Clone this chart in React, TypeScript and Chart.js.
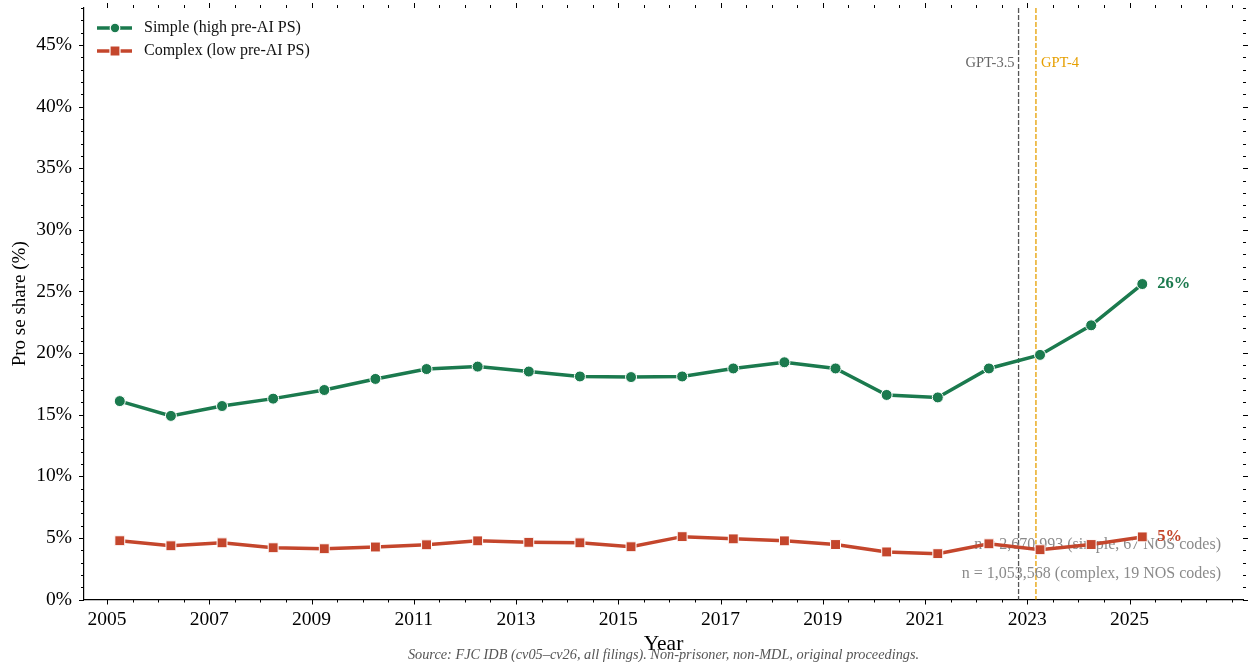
import { useEffect, useRef } from "react";
import { Chart, registerables } from "chart.js";

Chart.register(...registerables);

// Filing years (each point sits a quarter into its year)
const years = [
  2005, 2006, 2007, 2008, 2009, 2010, 2011, 2012, 2013, 2014, 2015,
  2016, 2017, 2018, 2019, 2020, 2021, 2022, 2023, 2024, 2025,
];
const POINT_OFFSET = 0.25;

// Pro se share (%) of filings, simple vs complex nature-of-suit groups
const simpleShare = [
  16.1, 14.9, 15.7, 16.3, 17.0, 17.9, 18.7, 18.9, 18.5, 18.1, 18.05,
  18.1, 18.75, 19.25, 18.75, 16.6, 16.4, 18.75, 19.85, 22.25, 25.6,
];
const complexShare = [
  4.77, 4.36, 4.6, 4.2, 4.12, 4.26, 4.44, 4.76, 4.64, 4.6, 4.28,
  5.1, 4.92, 4.76, 4.46, 3.86, 3.72, 4.52, 4.04, 4.46, 5.08,
];

const seriesNames = ["Simple (high pre-AI PS)", "Complex (low pre-AI PS)"];
const seriesColors = ["#1b7a4e", "#c4462c"];

const xTickValues = [2005, 2007, 2009, 2011, 2013, 2015, 2017, 2019, 2021, 2023, 2025];
const yTickValues = [0, 5, 10, 15, 20, 25, 30, 35, 40, 45];

const modelReleases = [
  { label: "GPT-3.5", x: 2022.83, color: "#555555", text: "#666666", side: "left" },
  { label: "GPT-4", x: 2023.17, color: "#e69f00", text: "#e69f00", side: "right" },
];

const sampleNotes = [
  "n = 2,670,993 (simple, 67 NOS codes)",
  "n = 1,053,568 (complex, 19 NOS codes)",
];
const sourceNote =
  "Source: FJC IDB (cv05\u2013cv26, all filings). Non-prisoner, non-MDL, original proceedings.";

const SERIF = "'Liberation Serif', 'Times New Roman', serif";

// Release markers and sample-size notes sit underneath the series
const backdropPlugin = {
  id: "backdrop",
  beforeDatasetsDraw(chart: any) {
    const { ctx, chartArea } = chart;
    const xs = chart.scales.x;
    ctx.save();
    modelReleases.forEach((m) => {
      const px = xs.getPixelForValue(m.x);
      ctx.beginPath();
      ctx.setLineDash([5, 2]);
      ctx.lineWidth = 1.3;
      ctx.strokeStyle = m.color;
      ctx.moveTo(px, chartArea.top);
      ctx.lineTo(px, chartArea.bottom);
      ctx.stroke();
      ctx.setLineDash([]);
      ctx.font = `14.5px ${SERIF}`;
      ctx.fillStyle = m.text;
      ctx.textBaseline = "middle";
      if (m.side === "left") {
        ctx.textAlign = "right";
        ctx.fillText(m.label, px - 4, chartArea.top + 55);
      } else {
        ctx.textAlign = "left";
        ctx.fillText(m.label, px + 5, chartArea.top + 55);
      }
    });
    ctx.font = `16px ${SERIF}`;
    ctx.fillStyle = "#8a8a8a";
    ctx.textAlign = "right";
    ctx.textBaseline = "middle";
    sampleNotes.forEach((t, i) => {
      ctx.fillText(t, chartArea.right - 22, chartArea.bottom - 55 + i * 29);
    });
    ctx.restore();
  },
};

// End labels, tick marks on all four sides, legend and source line
const overlayPlugin = {
  id: "overlay",
  afterDraw(chart: any) {
    const { ctx, chartArea } = chart;
    const xs = chart.scales.x;
    const ys = chart.scales.y;
    const { left, right, top, bottom } = chartArea;
    ctx.save();

    // value labels at the last point of each series
    chart.data.datasets.forEach((ds: any, i: number) => {
      const meta = chart.getDatasetMeta(i);
      const last = meta.data[meta.data.length - 1];
      const v = ds.data[ds.data.length - 1].y;
      ctx.font = `bold 16.5px ${SERIF}`;
      ctx.fillStyle = seriesColors[i];
      ctx.textAlign = "left";
      ctx.textBaseline = "middle";
      ctx.fillText(`${Math.round(v)}%`, last.x + 15, last.y);
    });

    // tick marks
    ctx.strokeStyle = "#000";
    ctx.lineWidth = 1;
    const line = (x1: number, y1: number, x2: number, y2: number) => {
      ctx.beginPath();
      ctx.moveTo(x1, y1);
      ctx.lineTo(x2, y2);
      ctx.stroke();
    };
    for (let v = Math.ceil(xs.min * 2) / 2; v <= xs.max; v += 0.5) {
      const px = Math.round(xs.getPixelForValue(v)) + 0.5;
      const len = xTickValues.includes(v) ? 5 : 3;
      line(px, bottom, px, bottom + len);
      line(px, top, px, top - len);
    }
    for (let v = Math.ceil(ys.min); v <= ys.max; v += 1) {
      const py = Math.round(ys.getPixelForValue(v)) + 0.5;
      const len = yTickValues.includes(v) ? 5 : 3;
      line(left, py, left - len, py);
      line(right, py, right + len, py);
    }

    // legend
    chart.data.datasets.forEach((ds: any, i: number) => {
      const y0 = top + 20 + i * 23;
      const x0 = left + 13;
      ctx.strokeStyle = seriesColors[i];
      ctx.lineWidth = 3.5;
      line(x0, y0, x0 + 35, y0);
      ctx.fillStyle = seriesColors[i];
      ctx.strokeStyle = "#ffffff";
      ctx.lineWidth = 1.2;
      ctx.beginPath();
      if (i === 0) {
        ctx.arc(x0 + 18, y0, 4.8, 0, Math.PI * 2);
      } else {
        ctx.rect(x0 + 18 - 5, y0 - 5, 10, 10);
      }
      ctx.fill();
      ctx.stroke();
      ctx.font = `16px ${SERIF}`;
      ctx.fillStyle = "#111";
      ctx.textAlign = "left";
      ctx.textBaseline = "middle";
      ctx.fillText(ds.label, x0 + 47, y0);
    });

    // source line
    ctx.font = `italic 14.3px ${SERIF}`;
    ctx.fillStyle = "#555";
    ctx.textAlign = "center";
    ctx.textBaseline = "middle";
    ctx.fillText(sourceNote, (left + right) / 2, chart.height - 7);

    ctx.restore();
  },
};

export default function App() {
  const canvasRef = useRef<HTMLCanvasElement | null>(null);

  useEffect(() => {
    const canvas = canvasRef.current;
    if (!canvas) return;
    const series = [simpleShare, complexShare];
    const chart = new Chart(canvas, {
      type: "line",
      data: {
        datasets: series.map((vals, i) => ({
          label: seriesNames[i],
          data: vals.map((v, j) => ({ x: years[j] + POINT_OFFSET, y: v })),
          borderColor: seriesColors[i],
          backgroundColor: seriesColors[i],
          borderWidth: 3.5,
          pointStyle: i === 0 ? "circle" : "rect",
          pointRadius: i === 0 ? 5.5 : 7,
          pointBorderColor: "#ffffff",
          pointBorderWidth: 1,
          pointBackgroundColor: seriesColors[i],
          tension: 0,
          fill: false,
        })),
      },
      options: {
        responsive: false,
        animation: false,
        devicePixelRatio: 1,
        layout: { padding: { left: 0, right: 0, top: 0, bottom: 0 } },
        plugins: {
          legend: { display: false },
          tooltip: { enabled: false },
        },
        scales: {
          x: {
            type: "linear",
            min: 2004.55,
            max: 2027.22,
            afterFit: (s: any) => {
              s.height = 62.5;
              s.paddingLeft = 0;
              s.paddingRight = 0;
            },
            afterBuildTicks: (s: any) => {
              s.ticks = xTickValues.map((v) => ({ value: v }));
            },
            grid: { display: true, drawOnChartArea: false, drawTicks: false },
            border: { display: true, color: "#000", width: 1.2 },
            ticks: {
              autoSkip: false,
              maxRotation: 0,
              padding: 9,
              color: "#000",
              font: { family: SERIF, size: 19.5 },
              callback: (v: any) => String(v),
            },
            title: {
              display: true,
              text: "Year",
              color: "#000",
              font: { family: SERIF, size: 21.5 },
              padding: { top: 0, bottom: 5 },
            },
          },
          y: {
            type: "linear",
            min: 0,
            max: 48,
            afterFit: (s: any) => {
              s.width = 84;
              s.paddingTop = 0;
              s.paddingBottom = 0;
            },
            afterBuildTicks: (s: any) => {
              s.ticks = yTickValues.map((v) => ({ value: v }));
            },
            grid: { display: true, drawOnChartArea: false, drawTicks: false },
            border: { display: true, color: "#000", width: 1.2 },
            ticks: {
              padding: 12,
              color: "#000",
              font: { family: SERIF, size: 19.5 },
              callback: (v: any) => `${v}%`,
            },
            title: {
              display: true,
              text: "Pro se share (%)",
              color: "#000",
              font: { family: SERIF, size: 19 },
              padding: { top: 9, bottom: 0 },
            },
          },
        },
      },
      plugins: [backdropPlugin, overlayPlugin],
    });
    return () => chart.destroy();
  }, []);

  return (
    <div style={{ position: "fixed", left: 0, top: 0, width: 1251, height: 662, background: "#fff" }}>
      <canvas ref={canvasRef} width={1251} height={662} style={{ display: "block" }} />
    </div>
  );
}
